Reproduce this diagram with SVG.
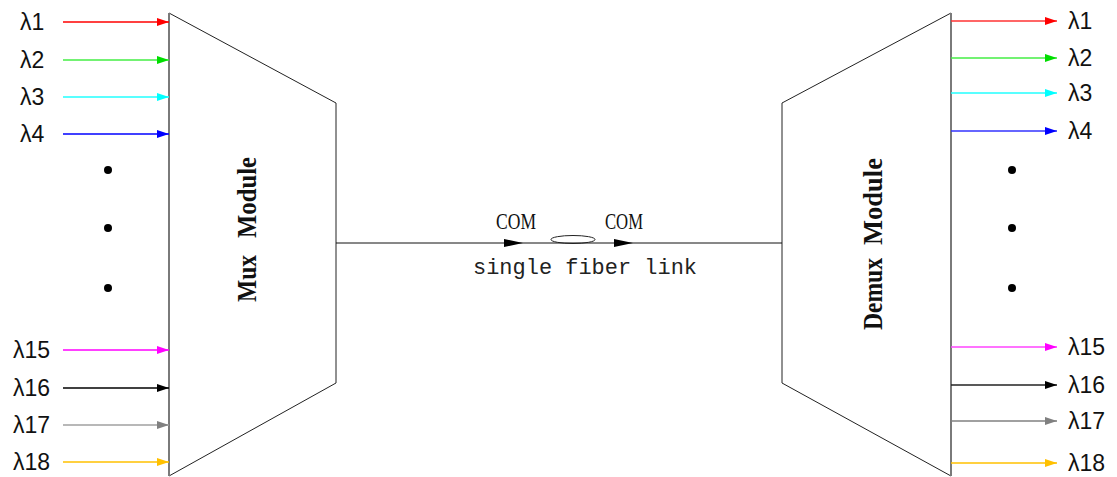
<svg xmlns="http://www.w3.org/2000/svg" width="1117" height="477" viewBox="0 0 1117 477">
<style>
.lbl{font-family:"Liberation Sans",Arial,sans-serif;font-size:23px;fill:#111}
.mod{font-family:"Liberation Serif","Times New Roman",serif;font-size:27px;font-weight:bold;fill:#111}
.com{font-family:"Liberation Serif","Times New Roman",serif;font-size:24px;fill:#111}
.fib{font-family:"Liberation Mono","Courier New",monospace;font-size:22px;fill:#222}
.edge{stroke:#222;stroke-width:1;fill:none}
.side{stroke:#7a7a7a;stroke-width:2}
.w{stroke-width:1.3;fill:none}
</style>
<defs>
<marker id="ar" markerUnits="userSpaceOnUse" markerWidth="12" markerHeight="8" refX="12" refY="4" orient="auto"><path d="M0,0 L12,4 L0,8 z" fill="#ff0000"/></marker>
<marker id="ag" markerUnits="userSpaceOnUse" markerWidth="12" markerHeight="8" refX="12" refY="4" orient="auto"><path d="M0,0 L12,4 L0,8 z" fill="#00dd00"/></marker>
<marker id="ac" markerUnits="userSpaceOnUse" markerWidth="12" markerHeight="8" refX="12" refY="4" orient="auto"><path d="M0,0 L12,4 L0,8 z" fill="#00ffff"/></marker>
<marker id="ab" markerUnits="userSpaceOnUse" markerWidth="12" markerHeight="8" refX="12" refY="4" orient="auto"><path d="M0,0 L12,4 L0,8 z" fill="#0000ff"/></marker>
<marker id="am" markerUnits="userSpaceOnUse" markerWidth="12" markerHeight="8" refX="12" refY="4" orient="auto"><path d="M0,0 L12,4 L0,8 z" fill="#ff00ff"/></marker>
<marker id="ak" markerUnits="userSpaceOnUse" markerWidth="12" markerHeight="8" refX="12" refY="4" orient="auto"><path d="M0,0 L12,4 L0,8 z" fill="#000000"/></marker>
<marker id="ay" markerUnits="userSpaceOnUse" markerWidth="12" markerHeight="8" refX="12" refY="4" orient="auto"><path d="M0,0 L12,4 L0,8 z" fill="#808080"/></marker>
<marker id="ao" markerUnits="userSpaceOnUse" markerWidth="12" markerHeight="8" refX="12" refY="4" orient="auto"><path d="M0,0 L12,4 L0,8 z" fill="#ffc000"/></marker>
</defs>

<g id="mux">
<polyline class="edge" points="169,13 336,103 336,383 169,476"/>
<line class="side" x1="169" y1="13" x2="169" y2="476"/>
<text class="mod" transform="translate(256,0) rotate(-90)"><tspan x="-302" textLength="47" lengthAdjust="spacingAndGlyphs">Mux</tspan><tspan x="-238" textLength="81" lengthAdjust="spacingAndGlyphs">Module</tspan></text>
</g>

<g id="demux">
<polyline class="edge" points="951,13 782,103 782,383 951,476"/>
<line class="side" x1="951" y1="13" x2="951" y2="476"/>
<text class="mod" transform="translate(882,0) rotate(-90)"><tspan x="-330" textLength="72" lengthAdjust="spacingAndGlyphs">Demux</tspan><tspan x="-245" textLength="87" lengthAdjust="spacingAndGlyphs">Module</tspan></text>
</g>

<g id="inputs-labels">
<text class="lbl" x="20" y="30">λ1</text>
<text class="lbl" x="20" y="68">λ2</text>
<text class="lbl" x="20" y="105">λ3</text>
<text class="lbl" x="20" y="142">λ4</text>
<text class="lbl" x="13" y="358">λ15</text>
<text class="lbl" x="13" y="396">λ16</text>
<text class="lbl" x="13" y="433">λ17</text>
<text class="lbl" x="13" y="470">λ18</text>
</g>

<g id="output-labels">
<text class="lbl" x="1068" y="29">λ1</text>
<text class="lbl" x="1068" y="66">λ2</text>
<text class="lbl" x="1068" y="101">λ3</text>
<text class="lbl" x="1068" y="139">λ4</text>
<text class="lbl" x="1068" y="355">λ15</text>
<text class="lbl" x="1068" y="393">λ16</text>
<text class="lbl" x="1068" y="429">λ17</text>
<text class="lbl" x="1068" y="471">λ18</text>
</g>

<g id="dots" fill="#000">
<circle cx="108" cy="170" r="4"/>
<circle cx="108" cy="228" r="4"/>
<circle cx="108" cy="288" r="4"/>
<circle cx="1012" cy="170" r="4"/>
<circle cx="1012" cy="228" r="4"/>
<circle cx="1012" cy="288" r="4"/>
</g>

<g id="connectors">
<line class="w" x1="63" y1="22" x2="169" y2="22" stroke="#ff0000" marker-end="url(#ar)"/>
<line class="w" x1="63" y1="60" x2="169" y2="60" stroke="#44ee44" marker-end="url(#ag)"/>
<line class="w" x1="63" y1="97" x2="169" y2="97" stroke="#22ffff" marker-end="url(#ac)"/>
<line class="w" x1="63" y1="134" x2="169" y2="134" stroke="#0000ff" marker-end="url(#ab)"/>
<line class="w" x1="63" y1="350" x2="169" y2="350" stroke="#ff00ff" marker-end="url(#am)"/>
<line class="w" x1="63" y1="388" x2="169" y2="388" stroke="#000000" marker-end="url(#ak)"/>
<line class="w" x1="63" y1="425" x2="169" y2="425" stroke="#a0a0a0" marker-end="url(#ay)"/>
<line class="w" x1="63" y1="462" x2="169" y2="462" stroke="#ffc000" marker-end="url(#ao)"/>

<line class="w" x1="951" y1="21" x2="1057" y2="21" stroke="#ff3333" marker-end="url(#ar)"/>
<line class="w" x1="951" y1="58" x2="1057" y2="58" stroke="#44ee44" marker-end="url(#ag)"/>
<line class="w" x1="951" y1="93" x2="1057" y2="93" stroke="#22ffff" marker-end="url(#ac)"/>
<line class="w" x1="951" y1="131" x2="1057" y2="131" stroke="#3333ff" marker-end="url(#ab)"/>
<line class="w" x1="951" y1="347" x2="1057" y2="347" stroke="#ff44ff" marker-end="url(#am)"/>
<line class="w" x1="951" y1="385" x2="1057" y2="385" stroke="#222222" marker-end="url(#ak)"/>
<line class="w" x1="951" y1="421" x2="1057" y2="421" stroke="#808080" marker-end="url(#ay)"/>
<line class="w" x1="951" y1="463" x2="1057" y2="463" stroke="#ffc000" marker-end="url(#ao)"/>

<line x1="336" y1="243" x2="782" y2="243" stroke="#111" stroke-width="1"/>
<polygon points="504,239 523,243 504,247" fill="#000"/>
<polygon points="614,239 633,243 614,247" fill="#000"/>
<ellipse cx="573" cy="239.5" rx="22" ry="4" fill="none" stroke="#222" stroke-width="1"/>
</g>

<g id="fiber-labels">
<text class="com" x="496" y="229" textLength="40" lengthAdjust="spacingAndGlyphs">COM</text>
<text class="com" x="605" y="229" textLength="38" lengthAdjust="spacingAndGlyphs">COM</text>
<text class="fib" x="473" y="274" textLength="224" lengthAdjust="spacingAndGlyphs">single fiber link</text>
</g>
</svg>
